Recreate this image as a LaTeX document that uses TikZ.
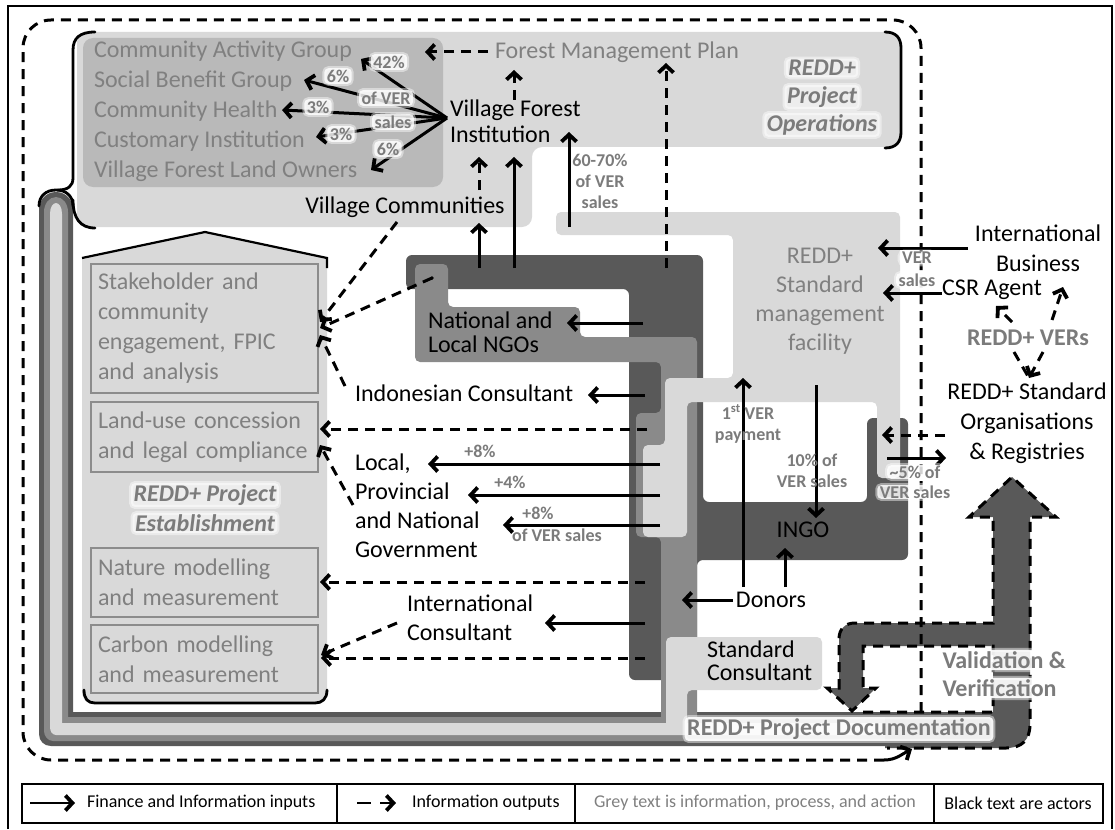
\documentclass[tikz,border=0pt]{standalone}
\usepackage{fontspec}
\setmainfont{Carlito}
\usetikzlibrary{arrows.meta}

\definecolor{lightfill}{HTML}{D9D9D9}
\definecolor{groupfill}{HTML}{B9B9B9}
\definecolor{midfill}{HTML}{8A8A8A}
\definecolor{darkfill}{HTML}{595959}
\definecolor{infotext}{HTML}{808080}
\definecolor{labeltext}{HTML}{7B7B7B}
\definecolor{boxedge}{HTML}{8C8C8C}

\newcommand\bigfont{\fontsize{24}{30}\selectfont}
\newcommand\labfont{\fontsize{18}{21}\selectfont\bfseries}
\newcommand\legfont{\fontsize{18}{21}\selectfont}

\begin{document}
\begin{tikzpicture}[x=1pt,y=-1pt,
  every node/.style={inner sep=0pt, outer sep=0pt},
  actor/.style={font=\bigfont, text=black},
  info/.style={font=\bigfont, text=infotext},
  note/.style={font=\labfont, text=labeltext, align=center},
  title/.style={font=\fontsize{24}{28}\selectfont\bfseries\itshape, text=labeltext},
  heading/.style={font=\fontsize{24}{28}\selectfont\bfseries, text=labeltext},
  glow/.style={fill=white, fill opacity=0.82, text opacity=1, rounded corners=4pt,
    inner xsep=2.5pt, inner ysep=1.5pt,
    preaction={draw=white, draw opacity=0.45, line width=4pt, fill=none}},
  flow/.style={line width=3pt, -{Straight Barb[length=7pt,width=15pt,line width=3.8pt]}},
  infoflow/.style={flow, dash pattern=on 10pt off 7pt},
  dashline/.style={line width=3pt, dash pattern=on 10pt off 7pt},
  subbox/.style={draw=boxedge, line width=2.6pt, fill=lightfill, minimum width=227pt,
    text width=213pt, inner xsep=7pt, align=left, font=\bigfont, text=infotext, anchor=north west},
  brace/.style={line width=2.8pt, line cap=round},
]
\useasboundingbox (0,0) rectangle (1115,829);

% outer frame
\draw[line width=1.6pt] (8,829) -- (8,6) -- (1112,6) -- (1112,829);

% ---------- project operations area ----------
\fill[lightfill, rounded corners=10pt] (77,32) -- (901,32) -- (901,147) -- (532,147) -- (532,227) -- (77,227) -- cycle;
\fill[groupfill, rounded corners=10pt] (83,38) rectangle (443,187);

% ---------- documentation pipe: left tube and bottom run ----------
\fill[darkfill] (39,734) -- (39,210) .. controls (39,200) and (46,192) .. (56,192) .. controls (66,192) and (73,200) .. (73,210)
  -- (73,712) -- (905,712) -- (905,746) -- (51,746) .. controls (44,746) and (39,741) .. (39,734) -- cycle;
\fill[midfill] (44,731) -- (44,212) .. controls (44,204) and (49,197) .. (56,197) .. controls (63,197) and (68,204) .. (68,212)
  -- (68,717) -- (905,717) -- (905,741) -- (53,741) .. controls (48,741) and (44,736) .. (44,731) -- cycle;
\fill[lightfill] (50,727) -- (50,214) .. controls (50,207) and (53,203) .. (56,203) .. controls (59,203) and (62,207) .. (62,214)
  -- (62,723) -- (905,723) -- (905,735) -- (56,735) .. controls (52,735) and (50,731) .. (50,727) -- cycle;

% brace joining the operations area to the tube
\draw[brace] (39,206) .. controls (39,196) and (46,190) .. (56,190) .. controls (66,190) and (73,196) .. (73,206);
\draw[brace] (95,32) .. controls (80,32) and (73,38) .. (73,50) -- (73,178) .. controls (73,186) and (68,190) .. (58,190);
\draw[brace] (73,200) .. controls (73,218) and (80,228) .. (95,228);
% right bracket of the operations area
\draw[brace] (885,32) .. controls (896,32) and (901,38) .. (901,48) -- (901,132) .. controls (901,142) and (896,148) .. (885,148);

% ---------- project establishment area ----------
\fill[lightfill] (82,258) -- (205,232) -- (327,258) -- (327,690) .. controls (327,698) and (324,703) .. (318,703)
  -- (91,703) .. controls (85,703) and (82,698) .. (82,690) -- cycle;
\draw[line width=2.2pt] (82,258) -- (205,232) -- (327,258) -- (327,268);
\draw[brace] (84,690) .. controls (84,699) and (88,703) .. (95,703) -- (315,703) .. controls (322,703) and (327,699) .. (327,690);

\node[subbox, minimum height=129pt] (stake) at (91,264) {Stakeholder and\\community\\engagement, FPIC\\and analysis};
\node[subbox, minimum height=70pt] (landuse) at (91,402) {Land-use concession\\and legal compliance};
\node[subbox, minimum height=69pt] (nature) at (91,548) {Nature modelling\\and measurement};
\node[subbox, minimum height=68pt] (carbon) at (91,625) {Carbon modelling\\and measurement};

% ---------- central channels ----------
% dark channel: NGO band, column and INGO cup
\fill[darkfill, rounded corners=6pt] (406,255) -- (703,255) -- (703,502) -- (867,502) -- (867,418) -- (908,418)
  -- (908,560) -- (697,560) -- (697,680) -- (629,680) -- (629,289) -- (406,289) -- cycle;
% medium channel: NGO box and column down to the pipe
\fill[midfill, rounded corners=5pt] (415,264) -- (448,264) -- (448,307) -- (580,307) -- (580,337) -- (697,337)
  -- (697,722) -- (661,722) -- (661,537) -- (636,537) -- (636,413) -- (661,413) -- (661,362) -- (415,362) -- cycle;
% light channel: standard management facility
\fill[lightfill, rounded corners=5pt] (556,212) -- (900,212) -- (900,478) -- (877,478) -- (877,402) -- (687,402)
  -- (687,537) -- (643,537) -- (643,445) -- (665,445) -- (665,378) -- (733,378) -- (733,235) -- (556,235) -- cycle;
% standard consultant block
\fill[lightfill, rounded corners=5pt] (666,729) -- (666,637) -- (822,637) -- (822,690) -- (687,690) -- (687,729) -- cycle;
\fill (432,278) circle (1.8pt);
\coordinate (ngodot) at (432,278);

% ---------- validation and verification arrow ----------
\fill[darkfill] (885,712) -- (993,712) -- (993,646) -- (863,646) -- (863,688) -- (876,688) -- (852,711) -- (827,688)
  -- (839,688) -- (839,639) .. controls (839,629) and (845,623) .. (855,623) -- (993,623) -- (993,517) -- (969,517)
  -- (1012,477) -- (1056,517) -- (1030,517) -- (1030,724) .. controls (1030,740) and (1022,748) .. (1006,748)
  -- (885,748) -- cycle;
\draw[dashline] (863,712) -- (993,712) -- (993,646) -- (863,646) -- (863,688) -- (876,688) -- (852,711) -- (827,688)
  -- (839,688) -- (839,639) .. controls (839,629) and (845,623) .. (855,623) -- (993,623) -- (993,517) -- (969,517)
  -- (1012,477) -- (1056,517) -- (1030,517) -- (1030,724) .. controls (1030,740) and (1022,748) .. (1006,748)
  -- (887,748);

% ---------- project boundary ----------
\draw[dashline, rounded corners=28pt] (921,712) -- (921,20) -- (23,20) -- (23,760) -- (884,760);
\coordinate (bndend) at (884,760);
\coordinate (bndtip) at (912,749);
\draw[flow] (bndend) .. controls (896,760) and (902,754) .. (bndtip);

% ---------- actors ----------
\node[actor] (vc) at (405,207) {Village Communities};
\node[actor, anchor=west, align=left, font=\fontsize{24}{26}\selectfont] (vfi) at (450,121) {Village Forest\\Institution};
\node[actor, anchor=west, align=left, font=\fontsize{24}{24}\selectfont] (ngo) at (428,332) {National and\\Local NGOs};
\node[actor, anchor=west] (indcons) at (355,393) {Indonesian Consultant};
\node[actor, anchor=west, align=left, font=\fontsize{24}{29}\selectfont] (gov) at (355,506) {Local,\\Provincial\\and National\\Government};
\node[actor, anchor=west, align=left, font=\fontsize{24}{29}\selectfont] (intcons) at (407,618) {International\\Consultant};
\node[actor] (donors) at (771,600) {Donors};
\node[actor] (ingo) at (803,530) {INGO};
\node[actor, anchor=west, align=left, font=\fontsize{24}{23}\selectfont] (stdcons) at (707,661) {Standard\\Consultant};
\node[actor, align=center] (intbiz) at (1038,248) {International\\Business};
\node[actor] (csr) at (992,290) {CSR Agent};
\node[actor, align=center] (orgs) at (1027,423) {REDD+ Standard\\Organisations\\\&\ Registries};

% ---------- information, process and action ----------
\node[info, anchor=west] (cag) at (94,51) {Community Activity Group};
\node[info, anchor=west] (sbg) at (94,81) {Social Benefit Group};
\node[info, anchor=west] (chl) at (94,111) {Community Health};
\node[info, anchor=west] (cin) at (94,141) {Customary Institution};
\node[info, anchor=west] (vlo) at (94,171) {Village Forest Land Owners};
\node[info, anchor=west] (fmp) at (495,52) {Forest Management Plan};
\node[info, align=center, font=\fontsize{24}{29}\selectfont] (facility) at (820,301) {REDD+\\Standard\\management\\facility};

% ---------- connectors ----------
% benefit sharing from the village forest institution
\coordinate (hub) at (447,118);
\coordinate (cagIn) at (361,59);
\coordinate (sbgIn) at (304,80);
\coordinate (chlIn) at (282,110);
\coordinate (cinIn) at (316,137);
\coordinate (vloIn) at (371,170);
\draw[flow] (hub) -- (cagIn);
\draw[flow] (hub) -- (sbgIn);
\draw[flow] (hub) -- (chlIn);
\draw[flow] (hub) -- (cinIn);
\draw[flow] (hub) -- (vloIn);

% forest management plan
\coordinate (fmpOut) at (488,52);
\coordinate (fmpTip) at (425,52);
\draw[infoflow] (fmpOut) -- (fmpTip);
\coordinate (vfiTop) at (514,100);
\coordinate (fmpIn) at (514,70);
\draw[infoflow] (vfiTop) -- (fmpIn);
\coordinate (mgtOut) at (666,268);
\coordinate (mgtIn) at (666,63);
\draw[infoflow] (mgtOut) -- (mgtIn);

% village level flows
\coordinate (ngoA) at (479,268);
\coordinate (vcIn) at (479,223);
\draw[flow] (ngoA) -- (vcIn);
\coordinate (ngoB) at (514,268);
\coordinate (vfiIn) at (514,157);
\draw[flow] (ngoB) -- (vfiIn);
\coordinate (vcTop) at (479,190);
\coordinate (vfiBot) at (479,157);
\draw[infoflow] (vcTop) -- (vfiBot);
\coordinate (facA) at (569,227);
\coordinate (vfiSide) at (569,132);
\draw[flow] (facA) -- (vfiSide);

% information into the establishment boxes
\coordinate (vcLow) at (397,222);
\coordinate (stakeA) at (320,322);
\draw[infoflow] (vcLow) -- (stakeA);
\coordinate (stakeB) at (320,328);
\draw[infoflow] (ngodot) -- (stakeB);
\coordinate (indLow) at (345,386);
\coordinate (stakeC) at (320,335);
\draw[infoflow] (indLow) -- (stakeC);
\coordinate (colA) at (647,429);
\coordinate (landA) at (320,429);
\draw[infoflow] (colA) -- (landA);
\coordinate (govLow) at (353,505);
\coordinate (landB) at (320,445);
\draw[infoflow] (govLow) -- (landB);
\coordinate (colB) at (645,582);
\coordinate (natureIn) at (320,582);
\draw[infoflow] (colB) -- (natureIn);
\coordinate (intLow) at (397,623);
\coordinate (carbonA) at (321,655);
\draw[infoflow] (intLow) -- (carbonA);
\coordinate (colC) at (645,658);
\coordinate (carbonB) at (321,658);
\draw[infoflow] (colC) -- (carbonB);

% finance to actors from the channels
\coordinate (colNgo) at (643,323);
\coordinate (ngoIn) at (567,323);
\draw[flow] (colNgo) -- (ngoIn);
\coordinate (colInd) at (645,395);
\coordinate (indIn) at (588,395);
\draw[flow] (colInd) -- (indIn);
\coordinate (gov1) at (660,464);
\coordinate (gov1In) at (428,464);
\draw[flow] (gov1) -- (gov1In);
\coordinate (gov2) at (660,495);
\coordinate (gov2In) at (468,495);
\draw[flow] (gov2) -- (gov2In);
\coordinate (gov3) at (660,525);
\coordinate (gov3In) at (503,525);
\draw[flow] (gov3) -- (gov3In);
\coordinate (colInt) at (645,623);
\coordinate (intIn) at (545,623);
\draw[flow] (colInt) -- (intIn);

% donors
\coordinate (donL) at (733,600);
\coordinate (donTip) at (682,600);
\draw[flow] (donL) -- (donTip);
\coordinate (donA) at (743,587);
\coordinate (payIn) at (743,378);
\draw[flow] (donA) -- (payIn);
\coordinate (donB) at (785,587);
\coordinate (ingoIn) at (785,548);
\draw[flow] (donB) -- (ingoIn);
\coordinate (facB) at (816,385);
\coordinate (ingoTop) at (816,518);
\draw[flow] (facB) -- (ingoTop);

% international side
\coordinate (bizOut) at (968,248);
\coordinate (facC) at (878,248);
\draw[flow] (bizOut) -- (facC);
\coordinate (csrOut) at (942,293);
\coordinate (facD) at (883,293);
\draw[flow] (csrOut) -- (facD);
\coordinate (orgOut) at (945,435);
\coordinate (facE) at (882,435);
\draw[infoflow] (orgOut) -- (facE);
\coordinate (cupOut) at (887,458);
\coordinate (orgIn) at (946,458);
\draw[flow] (cupOut) -- (orgIn);

% verified emission reductions
\node[heading] (vers) at (1028,338) {REDD+ VERs};
\coordinate (versL) at (1012,322);
\coordinate (csrIn) at (996,306);
\draw[infoflow] (versL) -- (csrIn);
\coordinate (versR) at (1052,320);
\coordinate (bizIn) at (1063,287);
\draw[infoflow] (versR) -- (bizIn);
\coordinate (versA) at (1014,352);
\coordinate (versB) at (1043,352);
\coordinate (orgTop) at (1029,378);
\draw[dashline] (versA) -- (orgTop);
\draw[infoflow] (versB) -- (orgTop);

% ---------- labels ----------
\node[note, glow] (pct42) at (389,62) {42\%};
\node[note, glow] (pct6a) at (338,76) {6\%};
\node[note, glow] (pctof) at (386,98) {of VER};
\node[note, glow] (pct3a) at (318,107) {3\%};
\node[note, glow] (pctsales) at (393,122) {sales};
\node[note, glow] (pct3b) at (341,134) {3\%};
\node[note, glow] (pct6b) at (388,149) {6\%};

\node[note] (share) at (600,181) {60-70\%\\of VER\\sales};
\node[note] (plus8a) at (480,451) {+8\%};
\node[note] (plus4) at (510,482) {+4\%};
\node[note] (plus8b) at (538,513) {+8\%};
\node[note] (plusof) at (557,535) {of VER sales};
\node[note] (firstpay) at (748,424) {1\textsuperscript{st} VER\\payment};
\node[note] (tenpct) at (812,471) {10\% of\\VER sales};
\node[note, glow, inner ysep=0.5pt] (versalesA) at (917,258) {VER};
\node[note, glow, inner ysep=0.5pt] (versalesB) at (917,280) {sales};
\node[note, glow, inner ysep=0.5pt] (fivepctA) at (915,472) {\textasciitilde 5\% of};
\node[note, glow, inner ysep=0.5pt] (fivepctB) at (915,492) {VER sales};

\node[title, glow, fill opacity=0.55] (opsA) at (822,68) {REDD+};
\node[title, glow, fill opacity=0.55] (opsB) at (822,97) {Project};
\node[title, glow, fill opacity=0.55] (opsC) at (822,125) {Operations};
\node[title, glow, fill opacity=0.55] (estA) at (205,495) {REDD+ Project};
\node[title, glow, fill opacity=0.55] (estB) at (205,523) {Establishment};
\node[heading, glow, fill opacity=0.9] (doctitle) at (839,729) {REDD+ Project Documentation};
\node[heading, glow, fill opacity=0.92, anchor=west] (valA) at (940,660) {Validation \&};
\node[heading, glow, fill opacity=0.92, anchor=west] (valB) at (940,688) {Verification};

% ---------- legend ----------
\draw[line width=2pt] (22,784) rectangle (1103,823);
\draw[line width=2pt] (337,784) -- (337,823);
\draw[line width=2pt] (575,784) -- (575,823);
\draw[line width=2pt] (934,784) -- (934,823);
\coordinate (legA) at (30,803);
\coordinate (legAtip) at (75,803);
\draw[flow, line width=2.6pt] (legA) -- (legAtip);
\node[font=\legfont, anchor=west] (legAtext) at (87,803) {Finance and Information inputs};
\coordinate (legB) at (357,803);
\coordinate (legBtip) at (396,803);
\draw[flow, line width=2.6pt, dash pattern=on 14pt off 9pt] (legB) -- (legBtip);
\node[font=\legfont, anchor=west] (legBtext) at (412,803) {Information outputs};
\node[font=\legfont, text=infotext] (legCtext) at (755,803) {Grey text is information, process, and action};
\node[font=\legfont] (legDtext) at (1018,803) {Black text are actors};
\end{tikzpicture}
\end{document}
